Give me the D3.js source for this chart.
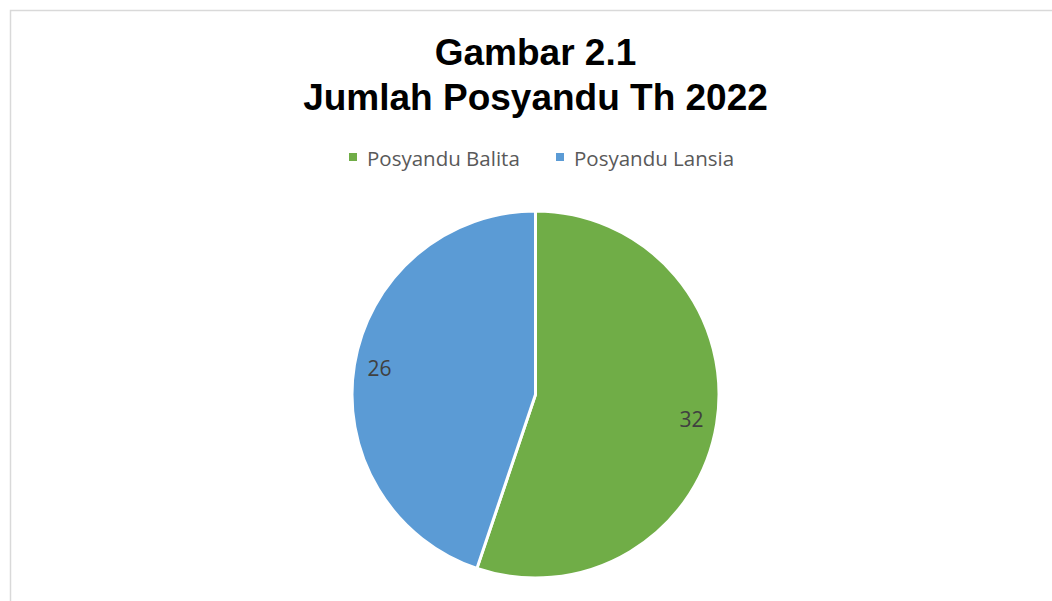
<!DOCTYPE html>
<html><head><meta charset="utf-8">
<script src="https://cdn.jsdelivr.net/npm/d3@7"></script>
<style>html,body{margin:0;padding:0;background:#fff;}</style>
</head><body>
<svg id="chart" width="1052" height="601"></svg>
<script>
const categories = ["Posyandu Balita", "Posyandu Lansia"];
const values = [32, 26];
const colors = ["#70AD47", "#5B9BD5"];
const titleLines = ["Gambar 2.1", "Jumlah Posyandu Th 2022"];

const svg = d3.select("#chart");
const W = 1052, H = 601;

svg.append("rect").attr("x", 10.5).attr("y", 10.5).attr("width", 1100).attr("height", 700)
  .attr("fill", "#fff").attr("stroke", "#d9d9d9").attr("stroke-width", 1.5);

const cx = 535.5, cy = 394.5, R = 183.5;

const title = svg.append("text").attr("text-anchor", "middle")
  .attr("font-family", "Liberation Sans, Arial, sans-serif").attr("font-weight", "bold")
  .attr("font-size", 37).attr("fill", "#000");
titleLines.forEach((t, i) => {
  title.append("tspan").attr("x", cx).attr("y", 65 + i * 45).text(t);
});

// legend
const legendItems = [{x: 349, tx: 367}, {x: 556, tx: 574}];
const lg = svg.append("g");
categories.forEach((c, i) => {
  lg.append("rect").attr("x", legendItems[i].x).attr("y", 153).attr("width", 8).attr("height", 8)
    .attr("fill", colors[i]);
  lg.append("text").attr("x", legendItems[i].tx).attr("y", 166)
    .attr("font-family", "Open Sans, sans-serif").attr("font-size", 20.5)
    .attr("fill", "#595959").text(c);
});

const pie = d3.pie().sort(null).value(d => d);
const arcs = pie(values);
const arc = d3.arc().innerRadius(0).outerRadius(R);
const labelArc = d3.arc().innerRadius(158).outerRadius(158);

const g = svg.append("g").attr("transform", `translate(${cx},${cy})`);
g.selectAll("path.slice").data(arcs).enter().append("path")
  .attr("class", "slice")
  .attr("d", arc)
  .attr("fill", (d, i) => colors[i])
  .attr("stroke", "#fff").attr("stroke-width", 3).attr("stroke-linejoin", "round");

g.selectAll("text.lbl").data(arcs).enter().append("text")
  .attr("class", "lbl")
  .attr("transform", d => `translate(${labelArc.centroid(d)})`)
  .attr("text-anchor", "middle").attr("dy", "0.35em")
  .attr("font-family", "Open Sans, sans-serif").attr("font-size", 21)
  .attr("fill", "#404040").text(d => d.data);
</script>
</body></html>
